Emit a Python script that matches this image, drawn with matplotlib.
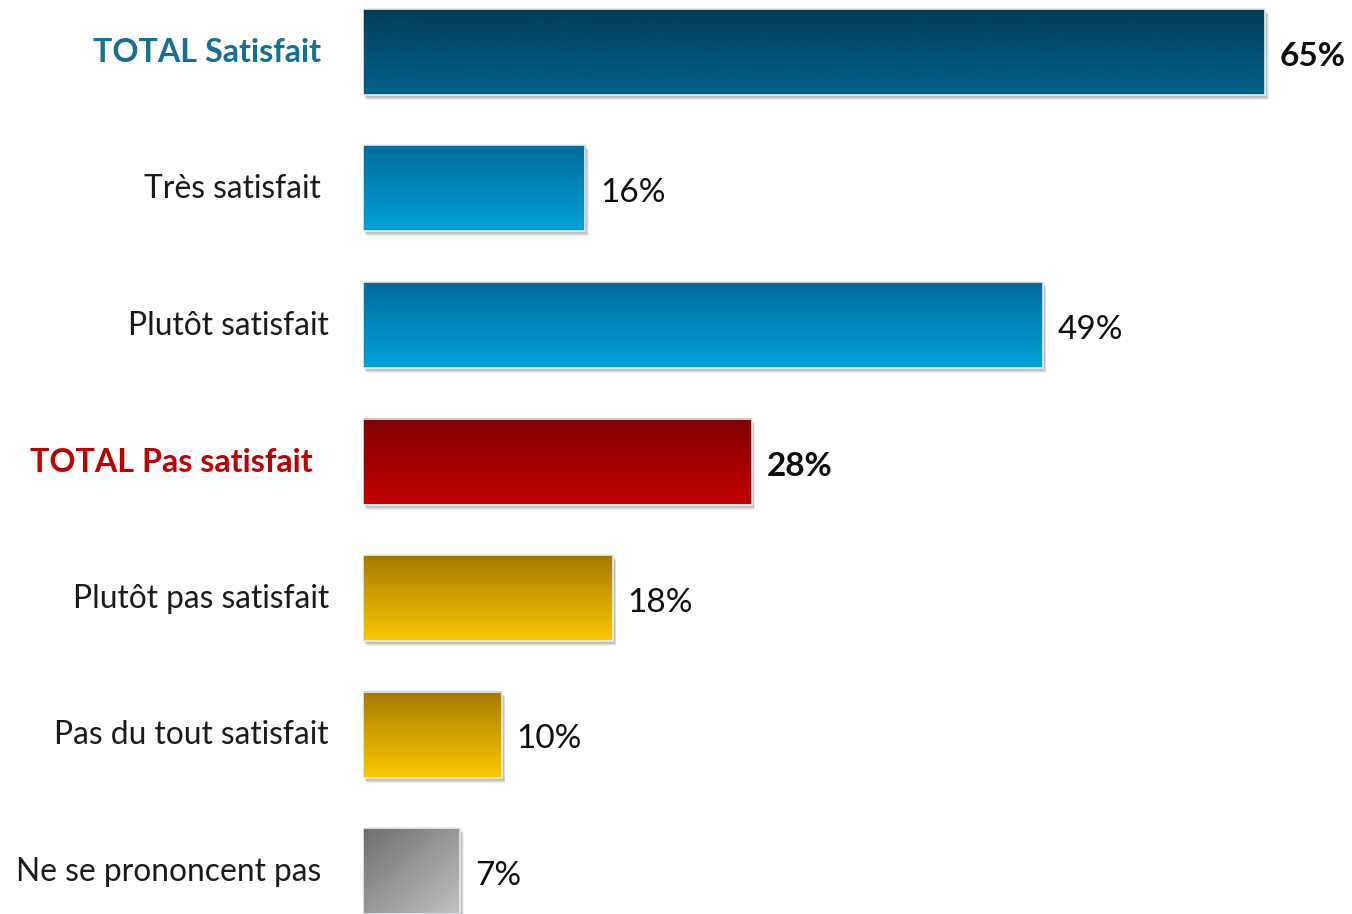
import numpy as np
import matplotlib
matplotlib.use("Agg")
import matplotlib.pyplot as plt
from matplotlib.colors import LinearSegmentedColormap
from matplotlib.patches import Rectangle

# Survey results: satisfaction breakdown
categories = ["TOTAL Satisfait", "Très satisfait", "Plutôt satisfait",
              "TOTAL Pas satisfait", "Plutôt pas satisfait",
              "Pas du tout satisfait", "Ne se prononcent pas"]
values = [65, 16, 49, 28, 18, 10, 7]
value_labels = ["65%", "16%", "49%", "28%", "18%", "10%", "7%"]
is_total = [True, False, False, True, False, False, False]

# Bar fills: (top colour, bottom colour, diagonal?)
fills = [("#023d57", "#02628c", False),
         ("#006c9c", "#00a2da", False),
         ("#006c9c", "#00a2da", False),
         ("#7e0000", "#c40000", False),
         ("#a67a00", "#fbc800", False),
         ("#a67a00", "#fbc800", False),
         ("#6e6e6e", "#c2c2c2", True)]
label_colors = ["#176e97", "#1a1a1a", "#1a1a1a", "#c00000",
                "#1a1a1a", "#1a1a1a", "#1a1a1a"]
label_right = [321, 321, 329, 313, 329, 329, 321]  # label right edges, px

W, H = 1352, 914
fig = plt.figure(figsize=(W / 100, H / 100), dpi=100)
fig.patch.set_facecolor("white")

x0_px = 363
px_per_unit = (1265 - x0_px) / 65.0
first_center, pitch, bar_px = 52.0, 136.5, 86.0

ax = fig.add_axes([x0_px / W, 0, 1 - x0_px / W, 1])
ax.set_axis_off()
xmax = (W - x0_px) / px_per_unit
ytop = -first_center / pitch
ybot = (H - first_center) / pitch
dx = 1.0 / px_per_unit   # one pixel in x data units
dy = 1.0 / pitch         # one pixel in y data units
h = bar_px / pitch

font = "Lato"

for i, (cat, v, lab, tot) in enumerate(zip(categories, values, value_labels, is_total)):
    top_c, bot_c, diag = fills[i]
    y_top = i - h / 2
    y_bot = i + h / 2
    # soft drop shadow
    for k, a in [(5, 0.12), (4, 0.20), (3, 0.32)]:
        ax.add_patch(Rectangle((k * dx * 0.7, y_top + k * dy), v, h,
                               facecolor="#8a8a8a", edgecolor="none",
                               alpha=a, zorder=1))
    # gradient fill
    cmap = LinearSegmentedColormap.from_list(f"g{i}", [top_c, bot_c])
    if diag:
        gx, gy = np.meshgrid(np.linspace(0, 1, 200), np.linspace(0, 1, 200))
        grad = (gx + gy) / 2
    else:
        grad = np.linspace(0, 1, 256).reshape(-1, 1)
    ax.imshow(grad, extent=[0, v, y_bot, y_top], origin="upper",
              aspect="auto", cmap=cmap, interpolation="bilinear", zorder=2)
    ax.add_patch(Rectangle((0, y_top), v, h, facecolor="none",
                           edgecolor="#e6edf0", linewidth=1.2, zorder=3))
    # value label
    ax.text(v + 15 * dx, i + 0.035, lab, ha="left", va="center",
            fontsize=24, fontweight="bold" if tot else "normal",
            color="#0d0d0d", family=font, zorder=4)
    # category label
    fig.text(label_right[i] / W, 1 - (first_center + pitch * i + 1) / H, cat,
             ha="right", va="center", fontsize=23.2 if tot else 22.9,
             fontweight="bold" if tot else "normal",
             color=label_colors[i], family=font)

ax.set_xlim(0, xmax)
ax.set_ylim(ybot, ytop)

fig.savefig("out.png", dpi=100, facecolor="white")
